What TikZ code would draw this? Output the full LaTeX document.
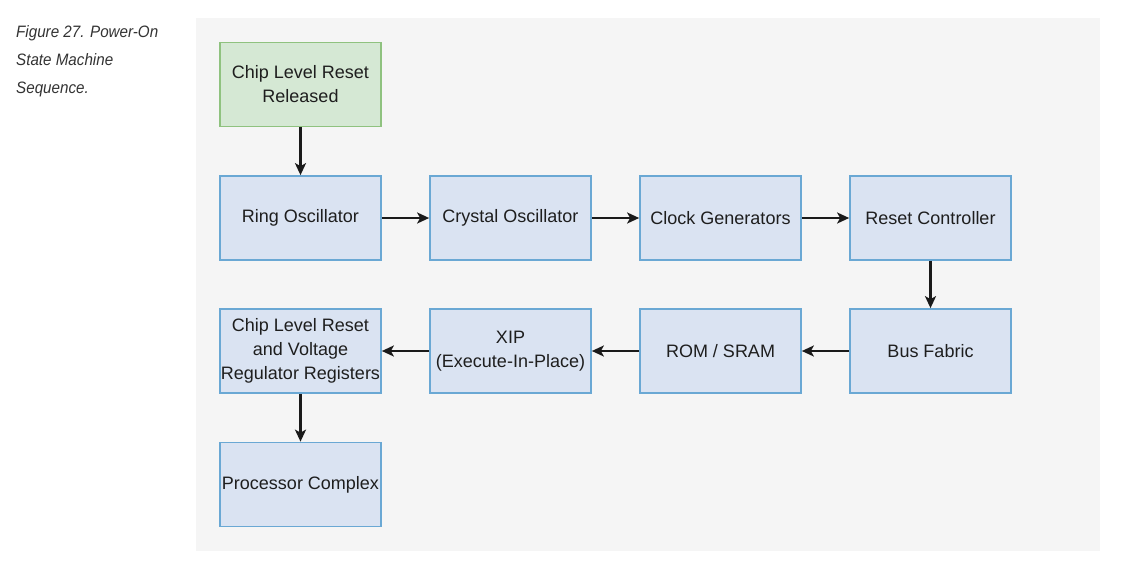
\documentclass[tikz,border=0pt]{standalone}
\usepackage{fontspec}
\setmainfont{Liberation Sans}
\newfontfamily\capfont[FakeStretch=0.92]{Liberation Sans}
\usetikzlibrary{arrows.meta}
\definecolor{bggray}{HTML}{F5F5F5}
\definecolor{bluefill}{HTML}{DAE3F2}
\definecolor{bluedraw}{HTML}{6AA8D4}
\definecolor{greenfill}{HTML}{D5E8D4}
\definecolor{greendraw}{HTML}{8FC27F}
\definecolor{txt}{HTML}{1E1E1E}
\definecolor{captxt}{HTML}{333333}
\definecolor{arr}{HTML}{1A1A1A}
\tikzset{
  blk/.style={rectangle, draw=bluedraw, fill=bluefill, line width=1.7pt,
    minimum width=161pt, minimum height=84pt, inner sep=0pt, align=center,
    text=txt, font=\fontsize{18}{24}\selectfont},
  startblk/.style={blk, draw=greendraw, fill=greenfill},
  flow/.style={draw=arr, line width=2.8pt, -{Stealth[length=12pt,width=11pt,inset=3pt]}},
  captext/.style={anchor=base west, inner sep=0pt, text=captxt, font=\capfont\itshape\fontsize{16.5}{28}\selectfont}
}
\begin{document}
\begin{tikzpicture}[x=1pt,y=-1pt]
\useasboundingbox (0,0) rectangle (1130,573);
\fill[bggray] (196,17.5) rectangle (1100,551);
\node[captext] (c1) at (16,37.5) {Figure 27. Power-On};
\node[captext] (c2) at (16,65.5) {State Machine};
\node[captext] (c3) at (16,93.5) {Sequence.};
\node[startblk] (start) at (300.5,84.5) {Chip Level Reset\\Released};
\node[blk] (ring) at (300.5,218) {Ring Oscillator};
\node[blk] (xtal) at (510.5,218) {Crystal Oscillator};
\node[blk] (clk) at (720.5,218) {Clock Generators};
\node[blk] (rst) at (930.5,218) {Reset Controller};
\node[blk] (bus) at (930.5,351) {Bus Fabric};
\node[blk] (rom) at (720.5,351) {ROM / SRAM};
\node[blk] (xip) at (510.5,351) {XIP\\(Execute-In-Place)};
\node[blk] (vreg) at (300.5,351) {Chip Level Reset\\and Voltage\\Regulator Registers};
\node[blk] (proc) at (300.5,484.5) {Processor Complex};
\draw[flow] (start) -- (ring);
\draw[flow] (ring) -- (xtal);
\draw[flow] (xtal) -- (clk);
\draw[flow] (clk) -- (rst);
\draw[flow] (rst) -- (bus);
\draw[flow] (bus) -- (rom);
\draw[flow] (rom) -- (xip);
\draw[flow] (xip) -- (vreg);
\draw[flow] (vreg) -- (proc);
\end{tikzpicture}
\end{document}
